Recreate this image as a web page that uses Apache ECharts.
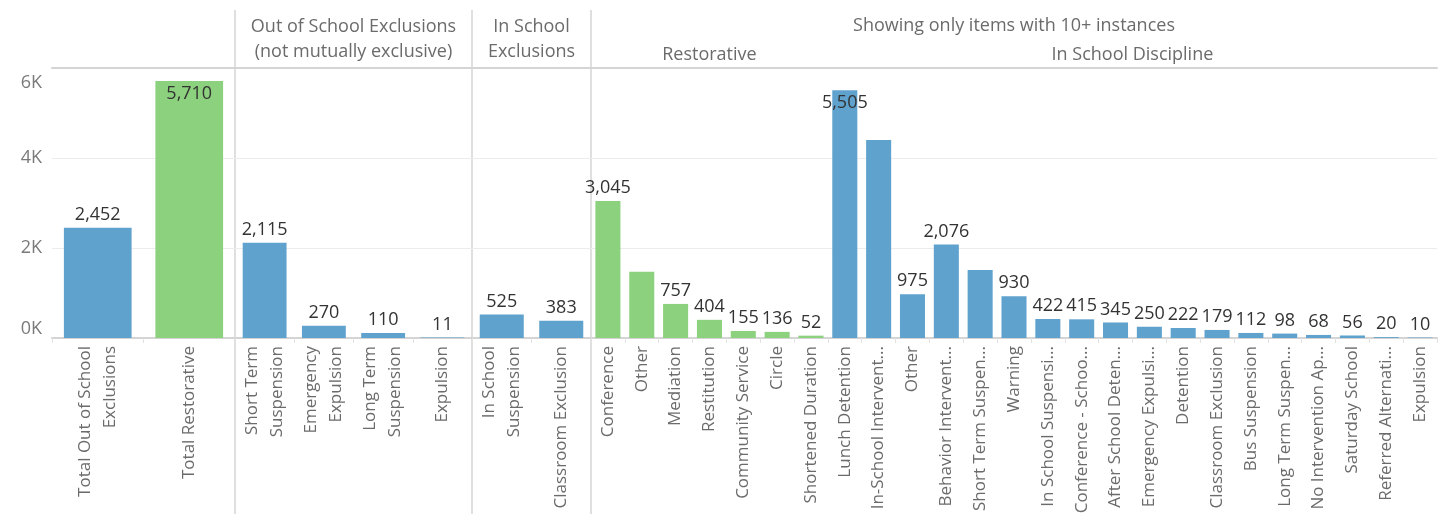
<!DOCTYPE html>
<html>
<head>
<meta charset="utf-8">
<script src="https://cdn.jsdelivr.net/npm/echarts@6/dist/echarts.min.js"></script>
<style>
  html, body { margin: 0; padding: 0; background: #fff; }
  #chart { width: 1446px; height: 514px; }
</style>
</head>
<body>
<div id="chart"></div>
<script>
// ---- data ----
const totalLabels = ['Total Out of School\nExclusions', 'Total Restorative'];
const totalValues = [2452, 5710];

const outOfSchoolLabels = ['Short Term\nSuspension', 'Emergency\nExpulsion', 'Long Term\nSuspension', 'Expulsion'];
const outOfSchoolValues = [2115, 270, 110, 11];

const inSchoolExclLabels = ['In School\nSuspension', 'Classroom Exclusion'];
const inSchoolExclValues = [525, 383];

const restorativeLabels = ['Conference', 'Other', 'Mediation', 'Restitution', 'Community Service', 'Circle', 'Shortened Duration'];
const restorativeValues = [3045, 1470, 757, 404, 155, 136, 52];
const restorativeUnlabeled = ['Other'];

const disciplineLabels = ['Lunch Detention', 'In-School Intervent...', 'Other', 'Behavior Intervent...', 'Short Term Suspen...',
  'Warning', 'In School Suspensi...', 'Conference - Schoo...', 'After School Deten...', 'Emergency Expulsi...',
  'Detention', 'Classroom Exclusion', 'Bus Suspension', 'Long Term Suspen...', 'No Intervention Ap...',
  'Saturday School', 'Referred Alternati...', 'Expulsion'];
const disciplineValues = [5505, 4400, 975, 2076, 1510, 930, 422, 415, 345, 250, 222, 179, 112, 98, 68, 56, 20, 10];
const disciplineUnlabeled = ['In-School Intervent...', 'Short Term Suspen...'];

const yTicks = [0, 2000, 4000, 6000];

// ---- style ----
const BLUE = '#5fa2ce';
const GREEN = '#8cd17d';
const FONT = '"Open Sans", "Noto Sans", sans-serif';
const LINE = '#d4d4d4';
const GRIDLINE = '#ececec';
const TEXT_GRAY = '#6b6b6b';

// pane layout (pixels)
const PLOT_TOP = 68;
const PLOT_BOTTOM = 338;
const H = 514;
const paneEdges = [52, 235, 472, 591, 1437];

const Y_MAX = yTicks[yTicks.length - 1];
const Y_STEP = yTicks[1] - yTicks[0];

function item(v, color, labeled) {
  const inside = v / Y_MAX > 0.9;
  return {
    value: v,
    itemStyle: { color: color },
    label: labeled ? {
      show: true,
      position: inside ? 'insideTop' : 'top',
      distance: 4
    } : { show: false }
  };
}

const panes = [
  {
    cats: totalLabels,
    data: totalValues.map((v, i) => item(v, i === 1 ? GREEN : BLUE, true))
  },
  {
    cats: outOfSchoolLabels,
    data: outOfSchoolValues.map(v => item(v, BLUE, true))
  },
  {
    cats: inSchoolExclLabels,
    data: inSchoolExclValues.map(v => item(v, BLUE, true))
  },
  {
    cats: restorativeLabels.concat(disciplineLabels),
    data: restorativeValues.map((v, i) => item(v, GREEN, restorativeUnlabeled.indexOf(restorativeLabels[i]) < 0))
      .concat(disciplineValues.map((v, i) => item(v, BLUE, disciplineUnlabeled.indexOf(disciplineLabels[i]) < 0)))
  }
];

const grids = [], xAxes = [], yAxes = [], series = [];
panes.forEach((p, i) => {
  const left = paneEdges[i];
  const width = paneEdges[i + 1] - left;
  grids.push({
    left: left, width: width, top: PLOT_TOP, bottom: H - PLOT_BOTTOM,
    containLabel: false,
    outerBoundsMode: 'none'
  });
  xAxes.push({
    type: 'category',
    gridIndex: i,
    data: p.cats,
    position: 'bottom',
    axisLine: { show: true, lineStyle: { color: LINE, width: 2 } },
    axisTick: { show: true, length: 5, interval: 0, lineStyle: { color: '#e2e2e2' } },
    axisLabel: {
      interval: 0,
      rotate: 90,
      margin: 8,
      color: TEXT_GRAY,
      fontFamily: FONT,
      fontSize: 17,
      lineHeight: 25
    }
  });
  // top border of each pane
  xAxes.push({
    type: 'category',
    gridIndex: i,
    data: p.cats,
    position: 'top',
    axisLine: { show: true, lineStyle: { color: LINE, width: 2 } },
    axisTick: { show: false },
    axisLabel: { show: false }
  });
  yAxes.push({
    type: 'value',
    gridIndex: i,
    min: 0,
    max: Y_MAX,
    interval: Y_STEP,
    axisLine: { show: false },
    axisTick: { show: false },
    splitLine: { show: true, lineStyle: { color: GRIDLINE, width: 1 } },
    axisLabel: i === 0 ? {
      show: true,
      margin: 10,
      color: '#7a7a7a',
      fontFamily: FONT,
      fontSize: 18,
      formatter: v => v === Y_MAX ? '{top|' + (v / 1000) + 'K}' : (v / 1000) + 'K',
      rich: { top: { color: '#7a7a7a', fontFamily: FONT, fontSize: 18, padding: [6, 0, 0, 0] } },
      verticalAlignMaxLabel: 'top',
      verticalAlignMinLabel: 'bottom'
    } : { show: false }
  });
  series.push({
    type: 'bar',
    xAxisIndex: i * 2,
    yAxisIndex: i,
    barWidth: '74%',
    data: p.data,
    label: {
      color: '#333',
      fontFamily: FONT,
      fontSize: 18,
      formatter: d => d.value.toLocaleString('en-US')
    },
    emphasis: { disabled: true },
    animation: false
  });
});

// pane headers and dividers
function center(a, b) { return (a + b) / 2; }
const restEnd = paneEdges[3] + (paneEdges[4] - paneEdges[3]) * restorativeLabels.length / (restorativeLabels.length + disciplineLabels.length);

function headerText(text, x, y) {
  return {
    type: 'text',
    silent: true,
    style: {
      text: text, x: x, y: y,
      textAlign: 'center', textVerticalAlign: 'middle',
      fill: TEXT_GRAY,
      font: '18px ' + FONT
    }
  };
}
function divider(x) {
  return {
    type: 'line',
    silent: true,
    shape: { x1: x, y1: 10, x2: x, y2: H },
    style: { stroke: LINE, lineWidth: 1.5 }
  };
}

const graphics = [
  headerText('Out of School Exclusions', center(paneEdges[1], paneEdges[2]), 27),
  headerText('(not mutually exclusive)', center(paneEdges[1], paneEdges[2]), 52),
  headerText('In School', center(paneEdges[2], paneEdges[3]), 27),
  headerText('Exclusions', center(paneEdges[2], paneEdges[3]), 52),
  headerText('Showing only items with 10+ instances', center(paneEdges[3], paneEdges[4]), 26),
  headerText('Restorative', center(paneEdges[3], restEnd), 55),
  headerText('In School Discipline', center(restEnd, paneEdges[4]), 55),
  divider(paneEdges[1]),
  divider(paneEdges[2]),
  divider(paneEdges[3])
];

const chart = echarts.init(document.getElementById('chart'), null, { renderer: 'canvas' });
chart.setOption({
  animation: false,
  textStyle: { fontFamily: FONT },
  grid: grids,
  xAxis: xAxes,
  yAxis: yAxes,
  series: series,
  graphic: graphics
});
</script>
</body>
</html>
